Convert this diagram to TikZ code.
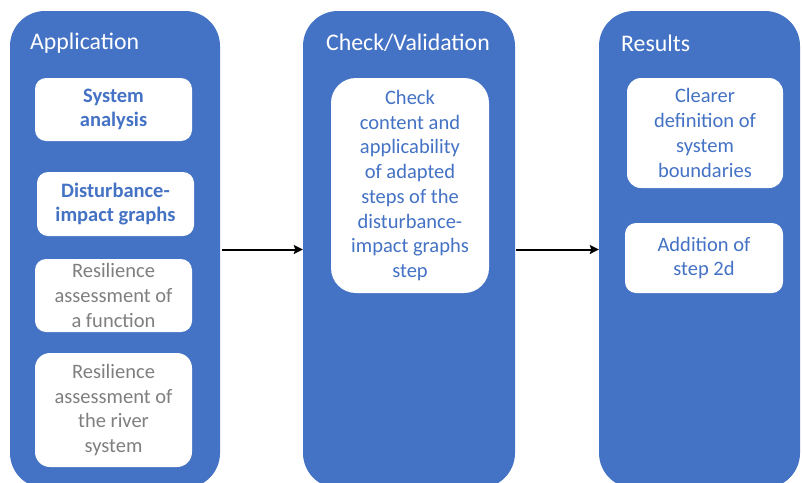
\documentclass[tikz,border=0pt]{standalone}
\usepackage{fontspec}
\setmainfont{Carlito}
\usetikzlibrary{arrows.meta}
\definecolor{obl}{HTML}{4472C4}
\definecolor{ogr}{HTML}{7F7F7F}
\tikzset{
  col/.style={fill=obl, draw=none, rounded corners=35pt, inner sep=0pt},
  ttl/.style={text=white, font=\fontsize{23.8}{28}\selectfont, inner sep=0pt},
  box/.style={fill=white, draw=none, rounded corners=11pt, inner sep=0pt, align=center,
    font=\fontsize{20.5}{24.7}\selectfont},
  bluebox/.style={box, text=obl},
  boldbox/.style={box, text=obl, font=\fontsize{20.5}{24.7}\selectfont\bfseries},
  graybox/.style={box, text=ogr},
  arr/.style={-{Stealth[length=9pt,width=9pt,inset=1.5pt]}, line width=2pt, black}
}
\begin{document}
\begin{tikzpicture}[x=1pt,y=-1pt]
\useasboundingbox (0,0) rectangle (802,482);
\clip (0,0) rectangle (802,482);
% columns
\node[col, minimum width=210pt, minimum height=477pt] (c1) at (115,249.5) {};
\node[col, minimum width=212pt, minimum height=477pt] (c2) at (409,249.5) {};
\node[col, minimum width=201pt, minimum height=477pt] (c3) at (699.5,249.5) {};
% titles
\node[ttl, anchor=west] (t1) at (30,43) {Application};
\node[ttl] (t2) at (408,43) {Check/Validation};
\node[ttl, anchor=west] (t3) at (621,43) {Results};
% left boxes
\node[boldbox, minimum width=157pt, minimum height=63pt] (a1) at (113.5,109.5) {System\\analysis};
\node[boldbox, minimum width=157pt, minimum height=64pt] (a2) at (115.5,204) {Disturbance-\\impact graphs};
\node[graybox, minimum width=157pt, minimum height=73pt] (a3) at (113.5,295.5) {Resilience\\assessment of\\a function};
\node[graybox, minimum width=157pt, minimum height=114pt, rounded corners=15pt] (a4) at (113.5,410) {Resilience\\assessment of\\the river\\system};
% middle box
\node[bluebox, minimum width=158pt, minimum height=215pt, rounded corners=25pt] (b1) at (410,185.5) {Check\\content and\\applicability\\of adapted\\steps of the\\disturbance-\\impact graphs\\step};
% right boxes
\node[bluebox, minimum width=156pt, minimum height=110pt, rounded corners=14pt] (r1) at (705,133) {Clearer\\definition of\\system\\boundaries};
\node[bluebox, minimum width=158pt, minimum height=70pt] (r2) at (704,258) {Addition of\\step 2d};
% arrows
\draw[arr] ([xshift=2pt]c1.east) -- (c2.west);
\draw[arr] ([xshift=1pt]c2.east) -- (c3.west);
\end{tikzpicture}
\end{document}
